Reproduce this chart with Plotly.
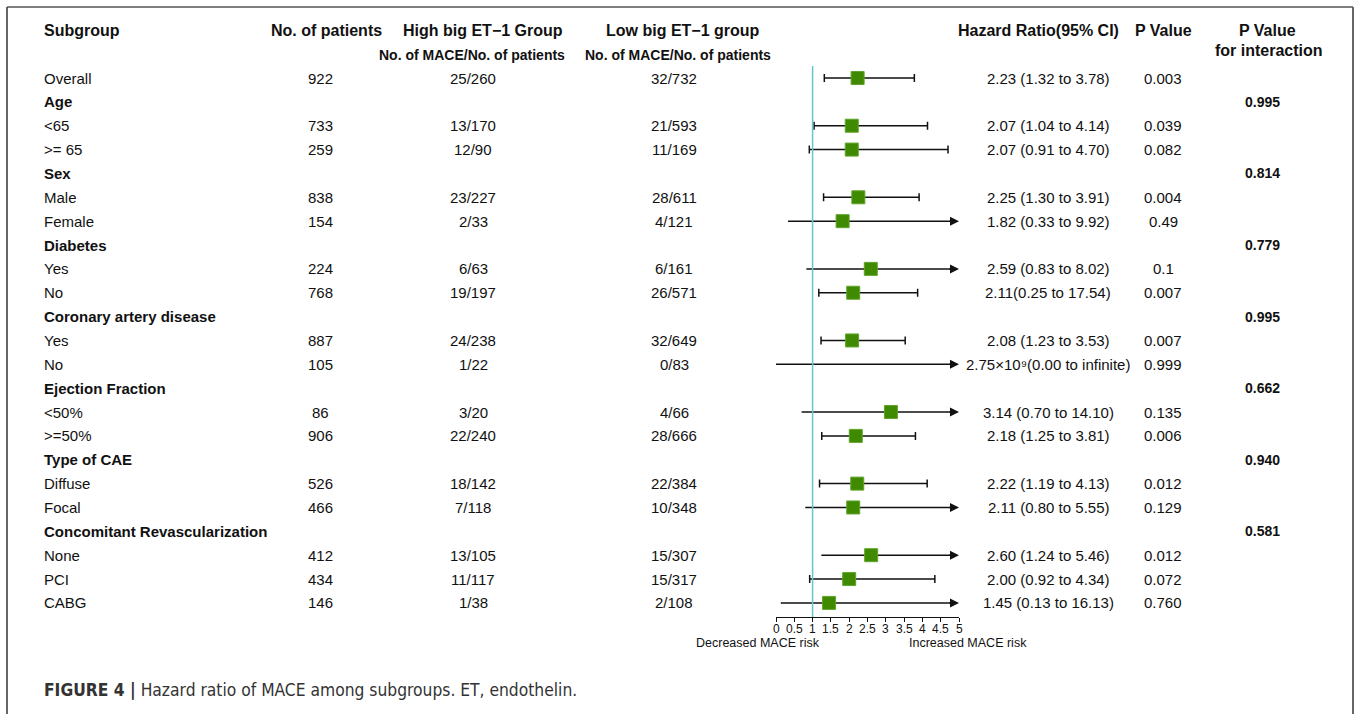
import plotly.graph_objects as go

W, H = 1357, 714

# ---------------- data ----------------
subgroups = ["Overall", "Age", "<65", ">= 65", "Sex", "Male", "Female", "Diabetes", "Yes", "No",
             "Coronary artery disease", "Yes", "No", "Ejection Fraction", "<50%", ">=50%",
             "Type of CAE", "Diffuse", "Focal", "Concomitant Revascularization", "None", "PCI", "CABG"]
is_header = [False, True, False, False, True, False, False, True, False, False,
             True, False, False, True, False, False, True, False, False, True, False, False, False]
n_patients = ["922", "", "733", "259", "", "838", "154", "", "224", "768", "", "887", "105", "",
              "86", "906", "", "526", "466", "", "412", "434", "146"]
high_group = ["25/260", "", "13/170", "12/90", "", "23/227", "2/33", "", "6/63", "19/197", "",
              "24/238", "1/22", "", "3/20", "22/240", "", "18/142", "7/118", "", "13/105", "11/117", "1/38"]
low_group = ["32/732", "", "21/593", "11/169", "", "28/611", "4/121", "", "6/161", "26/571", "",
             "32/649", "0/83", "", "4/66", "28/666", "", "22/384", "10/348", "", "15/307", "15/317", "2/108"]
# hazard ratio and the CI as drawn in the forest plot (None = no row / infinite)
hr = [2.23, None, 2.07, 2.07, None, 2.25, 1.82, None, 2.59, 2.11, None, 2.08, 2.75e9, None,
      3.14, 2.18, None, 2.22, 2.11, None, 2.60, 2.00, 1.45]
ci_low = [1.32, None, 1.04, 0.91, None, 1.30, 0.33, None, 0.83, 1.17, None, 1.23, 0.00, None,
          0.70, 1.25, None, 1.19, 0.80, None, 1.24, 0.92, 0.13]
ci_high = [3.78, None, 4.14, 4.70, None, 3.91, 9.92, None, 8.02, 3.87, None, 3.53, None, None,
           14.10, 3.81, None, 4.13, 5.55, None, 5.46, 4.34, 16.13]
hr_text = ["2.23 (1.32 to 3.78)", "", "2.07 (1.04 to 4.14)", "2.07 (0.91 to 4.70)", "",
           "2.25 (1.30 to 3.91)", "1.82 (0.33 to 9.92)", "", "2.59 (0.83 to 8.02)",
           "2.11(0.25 to 17.54)", "", "2.08 (1.23 to 3.53)", "2.75×10⁹(0.00 to infinite)", "",
           "3.14 (0.70 to 14.10)", "2.18 (1.25 to 3.81)", "", "2.22 (1.19 to 4.13)",
           "2.11 (0.80 to 5.55)", "", "2.60 (1.24 to 5.46)", "2.00 (0.92 to 4.34)", "1.45 (0.13 to 16.13)"]
p_value = ["0.003", "", "0.039", "0.082", "", "0.004", "0.49", "", "0.1", "0.007", "", "0.007",
           "0.999", "", "0.135", "0.006", "", "0.012", "0.129", "", "0.012", "0.072", "0.760"]
p_interaction = ["", "0.995", "", "", "0.814", "", "", "0.779", "", "", "0.995", "", "", "0.662",
                 "", "", "0.940", "", "", "0.581", "", "", ""]
tick_values = [0, 0.5, 1, 1.5, 2, 2.5, 3, 3.5, 4, 4.5, 5]
tick_labels = ["0", "0.5", "1", "1.5", "2", "2.5", "3", "3.5", "4", "4.5", "5"]
x_max = 5

# ---------------- layout helpers ----------------
FONT = "Liberation Sans, Arial, sans-serif"
TXT = "#111111"
row0_px, row_step = 78, 23.86
axis_px = 617
rows = list(range(len(subgroups)))


def px(x):
    return x / W


def py(y):
    return 1 - y / H


fig = go.Figure()

# CI lines: capped rows via error bars, clipped rows as lines + arrowheads
capped = [i for i in rows if hr[i] is not None and ci_high[i] is not None and ci_high[i] <= x_max]
arrowed = [i for i in rows if hr[i] is not None and (ci_high[i] is None or ci_high[i] > x_max)]

for i in arrowed:
    fig.add_trace(go.Scatter(x=[ci_low[i], x_max - 0.1], y=[i, i], mode="lines",
                             line=dict(color="#111111", width=1.5), hoverinfo="skip",
                             showlegend=False, cliponaxis=False))

fig.add_trace(go.Scatter(
    x=[hr[i] for i in capped], y=capped, mode="markers",
    marker=dict(symbol="square", size=13, color="rgba(0,0,0,0)"),
    error_x=dict(type="data", symmetric=False,
                 array=[ci_high[i] - hr[i] for i in capped],
                 arrayminus=[hr[i] - ci_low[i] for i in capped],
                 color="#111111", thickness=1.5, width=4),
    showlegend=False, hoverinfo="skip"))

visible = [i for i in rows if hr[i] is not None and hr[i] <= x_max]
fig.add_trace(go.Scatter(
    x=[hr[i] for i in visible], y=visible, mode="markers",
    marker=dict(symbol="square", size=13, color="#3f8a00", line=dict(color="#5fa52a", width=1)),
    showlegend=False, hoverinfo="skip"))

annotations = []
for i in arrowed:
    annotations.append(dict(x=x_max, y=i, ax=x_max - 0.3, ay=i, xref="x", yref="y", axref="x", ayref="y",
                            text="", showarrow=True, arrowhead=2, arrowsize=1.2, arrowwidth=1.5,
                            arrowcolor="#111111", standoff=0, startstandoff=0))

# tick labels of the HR axis
for v, lab in zip(tick_values, tick_labels):
    annotations.append(dict(x=v, y=py(628.5), xref="x", yref="paper", text=lab, showarrow=False,
                            xanchor="center", yanchor="middle",
                            font=dict(family=FONT, size=12, color=TXT)))

# headers
def hdr(text, x, y, size=16, anchor="center"):
    annotations.append(dict(x=px(x), y=py(y), xref="paper", yref="paper", text=text, showarrow=False,
                            xanchor=anchor, yanchor="middle",
                            font=dict(family=FONT, size=size, color=TXT)))

hdr("<b>Subgroup</b>", 42, 31, anchor="left")
hdr("<b>No. of patients</b>", 326, 31)
hdr("<b>High big ET−1 Group</b>", 483, 31)
hdr("<b>No. of MACE/No. of patients</b>", 472, 55, size=14)
hdr("<b>Low big ET−1 group</b>", 683, 31)
hdr("<b>No. of MACE/No. of patients</b>", 678, 55, size=14)
hdr("<b>Hazard Ratio(95% CI)</b>", 1038, 31)
hdr("<b>P Value</b>", 1163, 31)
hdr("<b>P Value</b>", 1267, 31)
hdr("<b>for interaction</b>", 1269, 51)

# table body
def cell(text, x, i, anchor="center", bold=False, size=15):
    if not text:
        return
    annotations.append(dict(x=px(x), y=i, xref="paper", yref="y",
                            text=("<b>%s</b>" % text) if bold else text, showarrow=False,
                            xanchor=anchor, yanchor="middle",
                            font=dict(family=FONT, size=size, color=TXT)))

for i in rows:
    cell(subgroups[i], 42, i, anchor="left", bold=is_header[i])
    cell(n_patients[i], 320, i)
    cell(high_group[i], 473, i)
    cell(low_group[i], 674, i)
    cell(hr_text[i], 1048, i)
    cell(p_value[i], 1163, i)
    cell(p_interaction[i], 1262, i, bold=True, size=14)

# axis side labels
annotations.append(dict(x=px(758), y=py(643), xref="paper", yref="paper", text="Decreased MACE risk",
                        showarrow=False, xanchor="center", yanchor="middle",
                        font=dict(family=FONT, size=12.5, color=TXT)))
annotations.append(dict(x=px(968), y=py(643), xref="paper", yref="paper", text="Increased MACE risk",
                        showarrow=False, xanchor="center", yanchor="middle",
                        font=dict(family=FONT, size=12.5, color=TXT)))

# caption
annotations.append(dict(x=px(42), y=py(690), xref="paper", yref="paper",
                        text="<b>FIGURE 4 |</b> Hazard ratio of MACE among subgroups. ET, endothelin.",
                        showarrow=False, xanchor="left", yanchor="middle",
                        font=dict(family="Liberation Sans Narrow, DejaVu Sans Condensed, Liberation Sans, sans-serif",
                                  size=17.3, color="#333333")))

shapes = [
    # reference line at HR = 1
    dict(type="line", xref="x", yref="y", x0=1, x1=1, y0=-0.5, y1=(axis_px - row0_px) / row_step,
         line=dict(color="#66c4d2", width=1.5)),
    # frame
    dict(type="line", xref="paper", yref="paper", x0=px(7), x1=px(7), y0=0, y1=py(7),
         line=dict(color="#666666", width=2)),
    dict(type="line", xref="paper", yref="paper", x0=px(7), x1=px(1353), y0=py(7), y1=py(7),
         line=dict(color="#555555", width=1.5)),
    dict(type="line", xref="paper", yref="paper", x0=px(1353), x1=px(1353), y0=0, y1=py(7),
         line=dict(color="#666666", width=2)),
]

fig.update_layout(
    width=W, height=H, margin=dict(l=0, r=0, t=0, b=0),
    paper_bgcolor="white", plot_bgcolor="rgba(0,0,0,0)",
    annotations=annotations, shapes=shapes, showlegend=False,
    xaxis=dict(domain=[px(776), px(959)], range=[0, x_max], anchor="free", position=py(axis_px),
               showline=True, linecolor="#111111", linewidth=1, ticks="outside", ticklen=4,
               tickwidth=1, tickcolor="#111111", tickvals=tick_values, showticklabels=False,
               showgrid=False, zeroline=False, fixedrange=True),
    yaxis=dict(domain=[0, 1], range=[(H - row0_px) / row_step, -row0_px / row_step], visible=False,
               showgrid=False, zeroline=False, fixedrange=True),
)

fig.write_html("out.html", config={"displayModeBar": False},
               post_script="document.body.style.margin='0';document.body.style.overflow='hidden';")
